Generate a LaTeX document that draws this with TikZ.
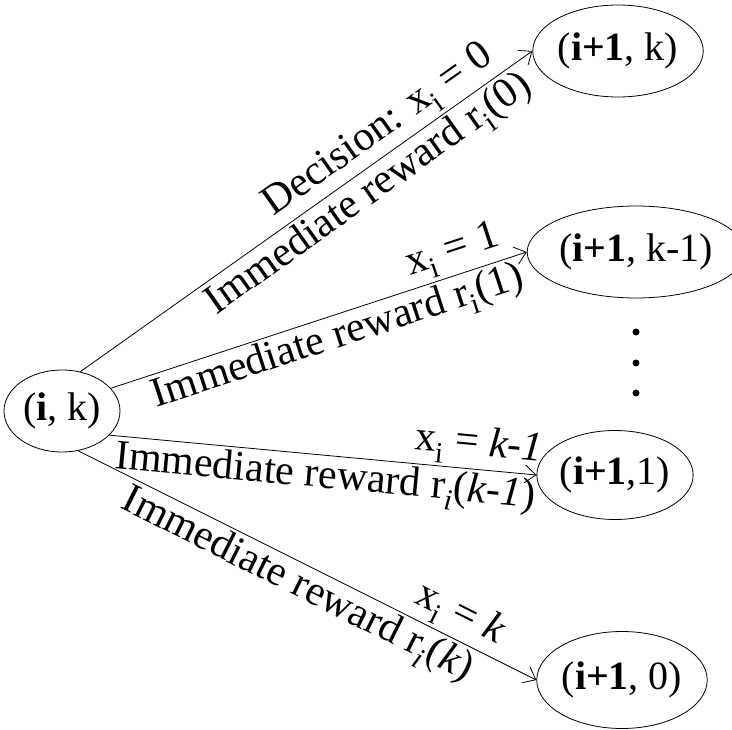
\documentclass[tikz,border=0pt]{standalone}
\usepackage{fontspec}
\setmainfont{Liberation Serif}
\usetikzlibrary{shapes.geometric,arrows.meta}

\begin{document}
\begin{tikzpicture}[x=1pt,y=-1pt,
  state/.style={ellipse,draw,line width=0.8pt,inner sep=0pt,font=\fontsize{40}{44}\selectfont},
  edge/.style={line width=0.8pt,-{Straight Barb[length=11pt,width=18pt]}},
  lbl/.style={sloped,inner sep=3pt,font=\fontsize{42}{46}\selectfont}]

\useasboundingbox (0,0) rectangle (732,730);

%Current state
\node[state,minimum width=116,minimum height=82] (ik) at (62,411) {(\textbf{i}, k)};

%Next states
\node[state,minimum width=167,minimum height=92] (n0) at (618,51) {(\textbf{i+1}, k)};
\node[state,minimum width=192,minimum height=92] (n1) at (636,252) {(\textbf{i+1}, k-1)};
\node[state,minimum width=155,minimum height=89] (n2) at (615,475) {(\textbf{i+1},1)};
\node[state,minimum width=167,minimum height=97] (n3) at (622,680) {(\textbf{i+1}, 0)};

%Dots
\foreach \y in {332,363,393} \fill (636,\y) circle [radius=3.5];

%Decisions
\draw[edge] (ik.65) -- node[lbl,above,pos=0.69] {Decision: x\textsubscript{i} = 0} node[lbl,below,pos=0.61] {Immediate reward r\textsubscript{i}(0)} (n0.west);
\draw[edge] (ik.25) -- node[lbl,above,pos=0.84] {x\textsubscript{i} = 1} node[lbl,below,pos=0.53] {Immediate reward r\textsubscript{i}(1)} (n1.west);
\draw[edge] (ik.-27) -- node[lbl,above,pos=0.86] {x\textsubscript{i} = \textit{k-1}} node[lbl,below,pos=0.51] {Immediate reward r\textsubscript{\textit{i}}(\textit{k-1})} (n2.west);
\draw[edge] (ik.-68) -- node[lbl,above,pos=0.81] {x\textsubscript{i} = \textit{k}} node[lbl,below,pos=0.50] {Immediate reward r\textsubscript{\textit{i}}(\textit{k})} (n3.west);

\end{tikzpicture}
\end{document}
